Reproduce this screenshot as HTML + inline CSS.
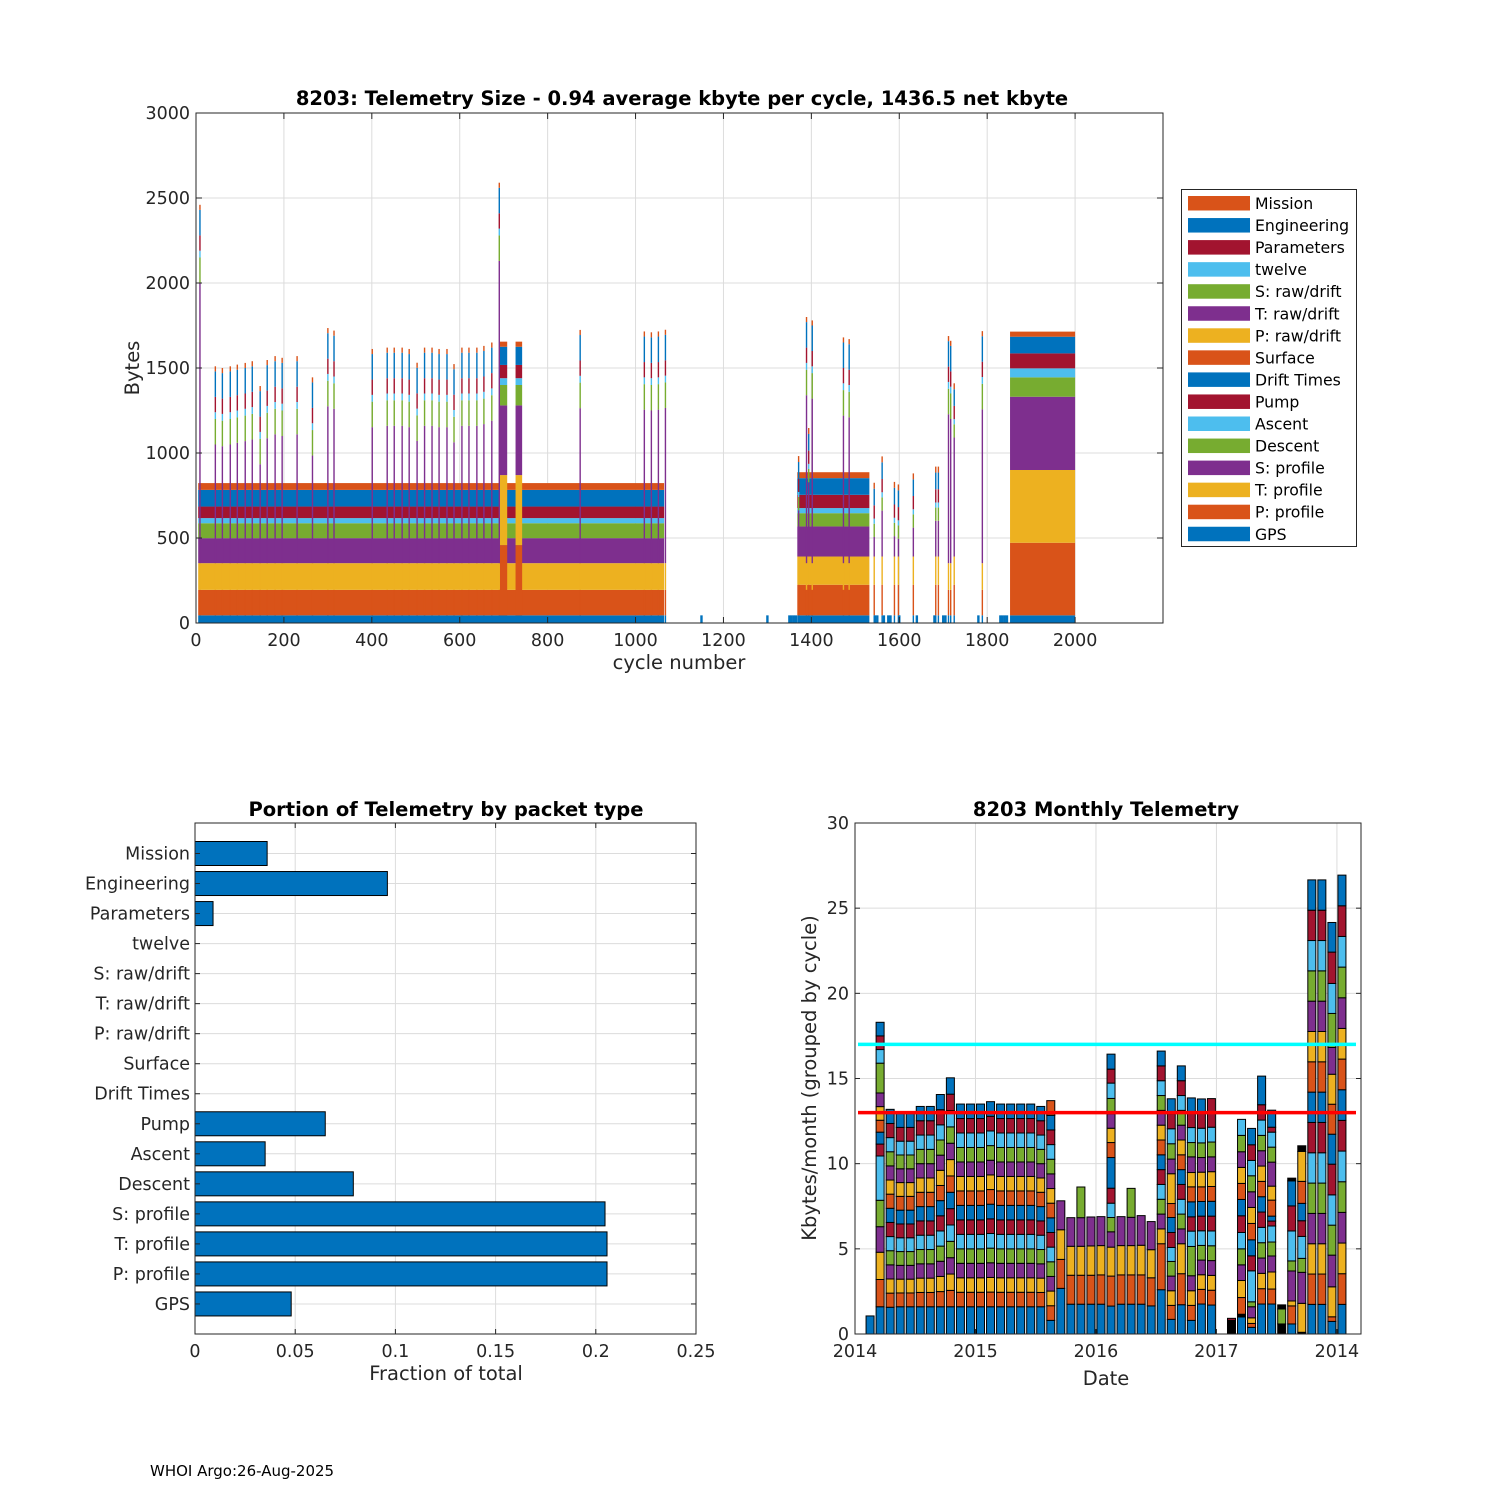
<!DOCTYPE html>
<html><head><meta charset="utf-8"><style>
html,body{margin:0;padding:0;background:#fff;}
svg{display:block;font-family:"DejaVu Sans","Liberation Sans",sans-serif;}
</style></head><body>
<svg id="fig" xmlns="http://www.w3.org/2000/svg" width="1500" height="1500" viewBox="0 0 1500 1500">
<rect width="1500" height="1500" fill="#fff"/>
<g id="topchart"></g>
<g id="bl"></g>
<g id="br"></g>
<text x="150" y="1476" font-size="15" fill="#000">WHOI Argo:26-Aug-2025</text>
</svg>
<script>
// ---------- DATA ----------
const packetNames = ["GPS","P: profile","T: profile","S: profile","Descent","Ascent","Pump","Drift Times","Surface","P: raw/drift","T: raw/drift","S: raw/drift","twelve","Parameters","Engineering","Mission"];
const blockStart = [5, 690, 727, 1368, 1852];
const blockEnd   = [1065, 708, 742, 1532, 2000];
const blockGPS   = [45, 45, 45, 45, 45];
const blockP     = [150, 413, 413, 180, 427];
const blockT     = [157, 412, 412, 166, 428];
const blockS     = [147, 410, 410, 177, 431];
const blockDesc  = [88, 120, 120, 78, 114];
const blockAsc   = [30, 40, 40, 30, 53];
const blockPump  = [68, 78, 78, 78, 88];
const blockEng   = [98, 107, 107, 98, 98];
const blockMis   = [40, 30, 30, 35, 30];
const spikeCycle = [9,44,60,78,94,112,128,146,162,180,196,230,265,300,314,401,435,451,469,485,503,520,537,553,571,587,605,621,639,655,673,690,874,1020,1036,1052,1068,1389,1402,1473,1486,1712,1717,1789];
const spikeTraw  = [1648,698,688,698,708,718,728,582,735,758,748,758,633,923,908,800,808,808,808,800,719,808,808,800,800,711,808,808,808,818,838,1778,912,903,898,903,913,988,968,868,858,876,848,905];
const shortCycle = [1371,1394,1543,1561,1589,1598,1632,1683,1689,1725];
const shortS     = [272,437,115,270,120,105,170,210,210,700];
const gpsCycles  = [1150,1300,1350,1355,1360,1365,1545,1550,1565,1575,1580,1600,1640,1680,1700,1705,1780,1830,1835,1840,1845];
const topYTicks = [0,500,1000,1500,2000,2500,3000];
const topXTicks = [0,200,400,600,800,1000,1200,1400,1600,1800,2000];

const fracNames = ["Mission","Engineering","Parameters","twelve","S: raw/drift","T: raw/drift","P: raw/drift","Surface","Drift Times","Pump","Ascent","Descent","S: profile","T: profile","P: profile","GPS"];
const fracValues = [0.036,0.096,0.009,0,0,0,0,0,0,0.065,0.035,0.079,0.2046,0.2056,0.2056,0.048];
const fracTicks = [0,0.05,0.1,0.15,0.2,0.25];
const fracTickLabels = ["0","0.05","0.1","0.15","0.2","0.25"];

const monthIdx = [1,2,3,4,5,6,7,8,9,10,11,12,13,14,15,16,17,18,19,20,21,22,23,24,25,26,27,28,29,30,31,32,33,34,35,37,38,39,40,41,42,43,44,45,46,47,48];
const monthSegs = [
 [1.06],
 [1.6,1.6,1.6,1.5,1.55,2.6,.7,.7,.7,.8,.8,1.75,.8,.8,.8],
 [1.57,.83,.83,.83,.83,.83,.83,.83,.83,.83,.83,.83,.83,.83,.83],
 [1.6,.81,.81,.81,.81,.81,.81,.81,.81,.81,.81,.81,.81,.81,.81],
 [1.6,.81,.81,.81,.81,.81,.81,.81,.81,.81,.81,.81,.81,.81,.81],
 [1.6,.84,.84,.84,.84,.84,.84,.84,.84,.84,.84,.84,.84,.84,.84],
 [1.6,.84,.84,.84,.84,.84,.84,.84,.84,.84,.84,.84,.84,.84,.84],
 [1.6,.89,.89,.89,.89,.89,.89,.89,.89,.89,.89,.89,.89,.89,.89],
 [1.6,.96,.96,.96,.96,.96,.96,.96,.96,.96,.96,.96,.96,.96,.96],
 [1.6,.85,.85,.85,.85,.85,.85,.85,.85,.85,.85,.85,.85,.85,.85],
 [1.6,.85,.85,.85,.85,.85,.85,.85,.85,.85,.85,.85,.85,.85,.85],
 [1.6,.85,.85,.85,.85,.85,.85,.85,.85,.85,.85,.85,.85,.85,.85],
 [1.6,.86,.86,.86,.86,.86,.86,.86,.86,.86,.86,.86,.86,.86,.86],
 [1.6,.85,.85,.85,.85,.85,.85,.85,.85,.85,.85,.85,.85,.85,.85],
 [1.6,.85,.85,.85,.85,.85,.85,.85,.85,.85,.85,.85,.85,.85,.85],
 [1.6,.85,.85,.85,.85,.85,.85,.85,.85,.85,.85,.85,.85,.85,.85],
 [1.6,.85,.85,.85,.85,.85,.85,.85,.85,.85,.85,.85,.85,.85,.85],
 [1.6,.84,.84,.84,.84,.84,.84,.84,.84,.84,.84,.84,.84,.84,.84],
 [.8,.86,.86,.86,.86,.86,.86,.86,.86,.86,.86,.86,.86,.86,.86,.86],
 [2.68,1.7,1.74,1.7],
 [1.75,1.7,1.7,1.68],
 [1.75,1.7,1.7,1.68,1.8],
 [1.75,1.7,1.72,1.7],
 [1.75,1.72,1.72,1.7],
 [1.64,1.76,1.7,.9,.84,.84,.88,1.8,.88,.84,.85,.9,.9,.82,.88],
 [1.75,1.72,1.72,1.7],
 [1.75,1.72,1.72,1.66,1.7],
 [1.75,1.72,1.74,1.74],
 [1.65,1.65,1.65,1.65],
 [2.6,2.7,.87,.87,.87,.87,.87,.87,.87,.87,.87,.87,.87,.87,.87],
 [.86,.82,.86,.86,.86,.82,.88,.88,.82,1.75,.86,.9,.88,.88,.88],
 [1.72,1.82,1.76,.87,.87,.87,.87,.87,.87,.87,.87,.87,.87,.87,.87],
 [.8,.88,.86,.88,1.72,.9,.84,.88,.88,.84,.92,.84,.88,.82,.92],
 [1.76,.86,.86,.86,.86,.86,.86,.86,.86,.86,.86,.86,.86,.86,.86],
 [1.7,.87,.87,.87,.87,.87,.87,.87,.87,.87,.87,.87,.87,1.68],
 [.8,.12],
 [1.0,.16,.98,1.0,.92,.94,.96,.98,.96,.94,.94,.92,.96,.94],
 [.39,.23,.33,.65,.29,1.82,.88,.94,.96,.94,.92,.94,.9,.92,.96],
 [1.76,.9,.9,.9,.9,.9,.9,.9,.9,.9,.9,.9,.9,.9,1.68],
 [1.76,.88,1.0,.94,.82,.94,.29,.29,.94,.82,1.41,.88,.88,.29,1.0],
 [.59,.88,.24],
 [.59,1.06,.29,1.76,.59,1.76,1.47,1.47,.16],
 [.1,1.7,1.82,.82,1.29,.92,1.02,1.29,1.76,.33],
 [1.74,1.78,1.78,1.78,1.78,1.78,1.78,1.78,1.78,1.78,1.78,1.78,1.78,1.78,1.78],
 [1.74,1.78,1.78,1.78,1.78,1.78,1.78,1.78,1.78,1.78,1.78,1.78,1.78,1.78,1.78],
 [.74,.27,1.76,1.86,1.76,1.78,1.8,1.76,1.76,1.76,1.57,2.0,1.76,1.84,1.74],
 [1.74,1.8,1.8,1.8,1.8,1.8,1.8,1.8,1.8,1.8,1.8,1.8,1.8,1.8,1.8]
];
const monthStartColor = {37:6, 42:4, 44:2};
const monthBlack = {37:[0], 38:[1], 42:[0,2], 43:[8], 44:[0,9]};
const meanLine = 13.0;
const upperLine = 17.0;
const monthYTicks = [0,5,10,15,20,25,30];
const monthXTicks = [0,12,24,36,48];
const monthXTickLabels = ["2014","2015","2016","2017","2014"];

// ---------- DRAWING ----------
const NS = "http://www.w3.org/2000/svg";
const C = ["#0072BD","#D95319","#EDB120","#7E2F8E","#77AC30","#4DBEEE","#A2142F"];
const TICKF = 17.5, TITLEF = 19.5, LABF = 19.5;
function mk(parent, tag, attrs){
  const e = document.createElementNS(NS, tag);
  for (const k in attrs) e.setAttribute(k, attrs[k]);
  parent.appendChild(e);
  return e;
}
function txt(parent, x, y, s, size, anchor, extra){
  const t = mk(parent, "text", Object.assign({x:x, y:y, "font-size":size, "text-anchor":anchor||"middle", fill:"#262626"}, extra||{}));
  t.textContent = s;
  return t;
}

// ===== TOP CHART =====
const topG = document.getElementById("topchart");
const TL=196, TR=1163, TT=113, TB=623;
const tx = c => TL + c*(TR-TL)/2200;
const ty = b => TB - b*(TB-TT)/3000;
const gridT = mk(topG,"g",{});


topXTicks.forEach(v=>{ mk(gridT,"line",{x1:tx(v),x2:tx(v),y1:TT,y2:TB,stroke:"#dcdcdc","stroke-width":1}); });
topYTicks.forEach(v=>{ mk(gridT,"line",{x1:TL,x2:TR,y1:ty(v),y2:ty(v),stroke:"#dcdcdc","stroke-width":1}); });

function stackBar(g, x0, x1, sizes, colorsIdx){
  let cum = 0;
  sizes.forEach((s,i)=>{
    if (s<=0) return;
    const r = mk(g,"rect",{x:x0, width:Math.max(x1-x0,0.8), y:ty(cum+s), height:ty(cum)-ty(cum+s), fill:C[colorsIdx[i]%7]});
    
    
    cum += s;
  });
}
const barsT = mk(topG,"g",{});


for (let i=0;i<blockStart.length;i++){
  const g = mk(barsT,"g",{});
  
  
  stackBar(g, tx(blockStart[i]), tx(blockEnd[i]),
    [blockGPS[i],blockP[i],blockT[i],blockS[i],blockDesc[i],blockAsc[i],blockPump[i],blockEng[i],blockMis[i]],
    [0,1,2,3,4,5,6,14,15]);
}
for (let i=0;i<shortCycle.length;i++){
  const g = mk(barsT,"g",{});
  
  
  stackBar(g, tx(shortCycle[i])-0.7, tx(shortCycle[i])+0.7, [45,180,166,shortS[i],78,30,78,98,35],[0,1,2,3,4,5,6,14,15]);
}
for (let i=0;i<spikeCycle.length;i++){
  const g = mk(barsT,"g",{});
  
  
  stackBar(g, tx(spikeCycle[i])-0.7, tx(spikeCycle[i])+0.7, [45,150,157,spikeTraw[i],150,40,90,150,30],[0,1,2,10,11,12,13,14,15]);
}
gpsCycles.forEach(c=>{
  const r = mk(barsT,"rect",{x:tx(c)-1.2,width:2.4,y:ty(45),height:ty(0)-ty(45),fill:C[0]});
  
  
});
const axT = mk(topG,"rect",{x:TL,y:TT,width:TR-TL,height:TB-TT,fill:"none",stroke:"#262626","stroke-width":1});


topYTicks.forEach(v=>{
  mk(topG,"line",{x1:TL,x2:TL+6,y1:ty(v),y2:ty(v),stroke:"#262626"});
  mk(topG,"line",{x1:TR,x2:TR-6,y1:ty(v),y2:ty(v),stroke:"#262626"});
  const t = txt(topG, TL-6, ty(v)+6, String(v), TICKF, "end");
  
  
});
topXTicks.forEach(v=>{
  mk(topG,"line",{x1:tx(v),x2:tx(v),y1:TB,y2:TB-6,stroke:"#262626"});
  mk(topG,"line",{x1:tx(v),x2:tx(v),y1:TT,y2:TT+6,stroke:"#262626"});
  const t = txt(topG, tx(v), TB+23, String(v), TICKF, "middle");
  
  
});
let t0 = txt(topG, 679, 669, "cycle number", LABF, "middle");
 
t0 = txt(topG, 139, 368, "Bytes", LABF, "middle", {transform:"rotate(-90 139 368)"});
 
t0 = txt(topG, 682, 105, "8203: Telemetry Size - 0.94 average kbyte per cycle, 1436.5 net kbyte", TITLEF, "middle", {"font-weight":"bold", fill:"#000"});
 

const leg = mk(topG,"g",{});


mk(leg,"rect",{x:1181.5,y:189.5,width:175,height:357,fill:"#fff",stroke:"#262626","stroke-width":1});
for (let i=0;i<16;i++){
  const pi = 15-i;
  const y = 196 + i*22.05;
  const e = mk(leg,"g",{});
  
  
  mk(e,"rect",{x:1188,y:y,width:62,height:14.5,fill:C[pi%7]});
  txt(e, 1255, y+13, packetNames[pi], 15.7, "start", {fill:"#000"});
}

// ===== BOTTOM LEFT =====
const blG = document.getElementById("bl");
const BL=195, BR=696, BT=823, BB=1334;
const bx = v => BL + v*(BR-BL)/0.25;
const by = i => 853.5 + i*30.03;
const gB = mk(blG,"g",{});
 
fracTicks.forEach(v=>mk(gB,"line",{x1:bx(v),x2:bx(v),y1:BT,y2:BB,stroke:"#dcdcdc"}));
fracNames.forEach((n,i)=>mk(gB,"line",{x1:BL,x2:BR,y1:by(i),y2:by(i),stroke:"#dcdcdc"}));
fracNames.forEach((n,i)=>{
  if (fracValues[i]>0){
    const r = mk(blG,"rect",{x:BL,y:by(i)-12,width:bx(fracValues[i])-BL,height:24,fill:"#0072BD",stroke:"#000","stroke-width":1});
    
    
  }
  mk(blG,"line",{x1:BL,x2:BL+5,y1:by(i),y2:by(i),stroke:"#262626"});
  mk(blG,"line",{x1:BR,x2:BR-5,y1:by(i),y2:by(i),stroke:"#262626"});
  const t = txt(blG, BL-5, by(i)+6, n, TICKF, "end");
   
});
const axB = mk(blG,"rect",{x:BL,y:BT,width:BR-BL,height:BB-BT,fill:"none",stroke:"#262626"});
 
fracTicks.forEach((v,i)=>{
  mk(blG,"line",{x1:bx(v),x2:bx(v),y1:BB,y2:BB-5,stroke:"#262626"});
  mk(blG,"line",{x1:bx(v),x2:bx(v),y1:BT,y2:BT+5,stroke:"#262626"});
  const t = txt(blG, bx(v), BB+23, fracTickLabels[i], TICKF, "middle");
   
});
t0 = txt(blG, 446, 1380, "Fraction of total", LABF, "middle");
 
t0 = txt(blG, 446, 816, "Portion of Telemetry by packet type", TITLEF, "middle", {"font-weight":"bold", fill:"#000"});
 

// ===== BOTTOM RIGHT =====
const brG = document.getElementById("br");
const ML=855, MR=1361, MT=823, MB=1334;
const mx = m => ML + m*10.04;
const my = v => MB - v*(MB-MT)/30;
const gM = mk(brG,"g",{});
 
monthXTicks.forEach(v=>mk(gM,"line",{x1:mx(v),x2:mx(v),y1:MT,y2:MB,stroke:"#dcdcdc"}));
monthYTicks.forEach(v=>mk(gM,"line",{x1:ML,x2:MR,y1:my(v),y2:my(v),stroke:"#dcdcdc"}));
monthIdx.forEach((m,i)=>{
  const g = mk(brG,"g",{});
  
  
  const blacks = monthBlack[m]||[];
  let ci = monthStartColor[m]||0;
  let cum = 0;
  const xc = mx(m+0.5);
  monthSegs[i].forEach((s,k)=>{
    let fill;
    if (blacks.indexOf(k)>=0) fill = "#000"; else { fill = C[ci%7]; ci++; }
    const r = mk(g,"rect",{x:xc-4,y:my(cum+s),width:8,height:my(cum)-my(cum+s),fill:fill,stroke:"#000","stroke-width":1});
    
    
    cum += s;
  });
});
let ln = mk(brG,"line",{x1:858,x2:1356,y1:my(upperLine),y2:my(upperLine),stroke:"#00FFFF","stroke-width":3.5});
 
ln = mk(brG,"line",{x1:858,x2:1356,y1:my(meanLine),y2:my(meanLine),stroke:"#FF0000","stroke-width":3.5});
 
const axM = mk(brG,"rect",{x:ML,y:MT,width:MR-ML,height:MB-MT,fill:"none",stroke:"#262626"});
 
monthYTicks.forEach(v=>{
  mk(brG,"line",{x1:ML,x2:ML+5,y1:my(v),y2:my(v),stroke:"#262626"});
  mk(brG,"line",{x1:MR,x2:MR-5,y1:my(v),y2:my(v),stroke:"#262626"});
  const t = txt(brG, ML-6, my(v)+6, String(v), TICKF, "end");
   
});
monthXTicks.forEach((v,i)=>{
  mk(brG,"line",{x1:mx(v),x2:mx(v),y1:MB,y2:MB-5,stroke:"#262626"});
  const t = txt(brG, mx(v), MB+23, monthXTickLabels[i], TICKF, "middle");
   
});
t0 = txt(brG, 1106, 1385, "Date", LABF, "middle");
 
t0 = txt(brG, 816, 1078, "Kbytes/month (grouped by cycle)", LABF, "middle", {transform:"rotate(-90 816 1078)"});
 
t0 = txt(brG, 1106, 816, "8203 Monthly Telemetry", TITLEF, "middle", {"font-weight":"bold", fill:"#000"});
 
</script>
</body></html>
